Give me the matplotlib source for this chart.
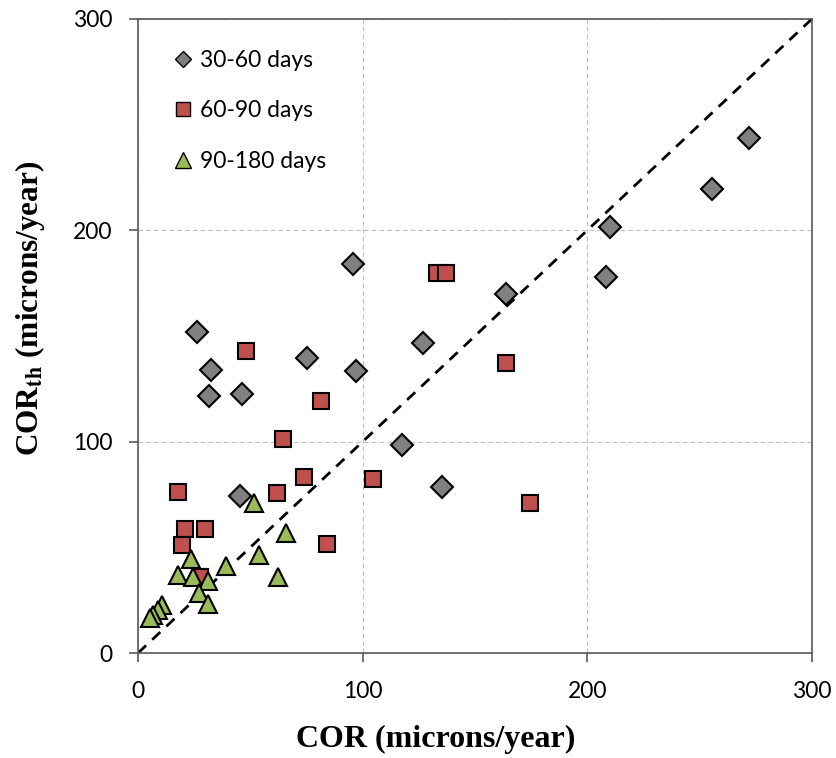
import matplotlib
matplotlib.use('Agg')
import matplotlib.pyplot as plt

# 30-60 days
cor_30_60 = [26.4, 32.5, 31.6, 46.3, 45.2, 75.4, 97.1, 95.5, 126.8, 117.6,
             135.4, 163.9, 208.5, 210.2, 255.4, 272.0]
corth_30_60 = [151.9, 133.8, 121.8, 122.7, 74.2, 139.8, 133.6, 184.1, 146.9, 98.5,
               78.4, 170.0, 177.8, 201.7, 219.7, 243.9]

# 60-90 days
cor_60_90 = [17.7, 20.9, 30.0, 19.5, 27.6, 64.7, 62.0, 73.9, 84.1, 48.0,
             81.5, 104.4, 133.3, 137.2, 163.6, 174.5]
corth_60_90 = [76.1, 58.5, 58.5, 51.1, 36.1, 101.3, 75.9, 83.2, 51.4, 143.1,
               119.4, 82.3, 179.6, 179.6, 137.4, 70.9]

# 90-180 days
cor_90_180 = [51.5, 65.8, 53.9, 62.5, 39.2, 23.5, 17.7, 24.6, 31.3, 27.3,
              31.3, 10.5, 9.0, 6.8, 5.3]
corth_90_180 = [70.8, 56.8, 46.4, 36.1, 41.2, 44.6, 36.8, 35.8, 34.1, 28.3,
                23.2, 22.7, 20.3, 18.0, 16.4]

ticks = [0, 100, 200, 300]

plt.rcParams['mathtext.fontset'] = 'stix'

fig = plt.figure(figsize=(8.37, 7.58), dpi=100)
ax = fig.add_axes([0.1649, 0.1385, 0.8051, 0.8365])

ax.plot([0, 300], [0, 300], color='black', linestyle=(0, (4, 3)), linewidth=2, zorder=2)

# square hidden behind the triangles
ax.plot(cor_60_90[4:5], corth_60_90[4:5], 's', color='#C0504D', markeredgecolor='black',
        markeredgewidth=1.5, markersize=11, zorder=3)
ax.plot(cor_30_60, corth_30_60, 'D', color='#808080', markeredgecolor='black',
        markeredgewidth=1.5, markersize=11, label='30-60 days', zorder=3)
ax.plot(cor_60_90, corth_60_90, 's', color='#C0504D', markeredgecolor='black',
        markeredgewidth=1.5, markersize=11, label='60-90 days', zorder=3)
ax.plot(cor_90_180, corth_90_180, '^', color='#9BBB59', markeredgecolor='black',
        markeredgewidth=1.5, markersize=13, label='90-180 days', zorder=4)

ax.set_xlim(0, 300)
ax.set_ylim(0, 300)
ax.set_xticks(ticks)
ax.set_yticks(ticks)
ax.grid(True, color='#BFBFBF', linestyle=(0, (4, 3)), linewidth=0.8)
ax.set_axisbelow(True)
for sp in ax.spines.values():
    sp.set_color('#595959')
    sp.set_linewidth(1.2)
ax.tick_params(direction='out', length=6.5, width=1.2, color='#595959',
               labelsize=16.5)
ax.tick_params(axis='y', pad=12)
ax.tick_params(axis='x', pad=14)
for lab in ax.get_xticklabels() + ax.get_yticklabels():
    lab.set_fontfamily('Lato')

ax.set_xlabel('COR (microns/year)', fontfamily='Liberation Serif', fontweight='bold',
              fontsize=23)
ax.set_ylabel(r'COR$_{\mathbf{th}}$ (microns/year)', fontfamily='Liberation Serif',
              fontweight='bold', fontsize=22.5)
ax.xaxis.set_label_coords(0.442, -0.113)
ax.yaxis.set_label_coords(-0.135, 0.544)

leg = ax.legend(loc='upper left', bbox_to_anchor=(0.0412, 0.9656), frameon=False,
                handlelength=0.7, handletextpad=0.4, labelspacing=1.29, borderaxespad=0,
                prop={'family': 'Lato', 'size': 16.5})
for h, ms in zip(leg.legend_handles, [8.5, 10.5, 11.5]):
    h.set_markersize(ms)
    h.set_markeredgewidth(1.0)

fig.savefig('out.png', dpi=100)
